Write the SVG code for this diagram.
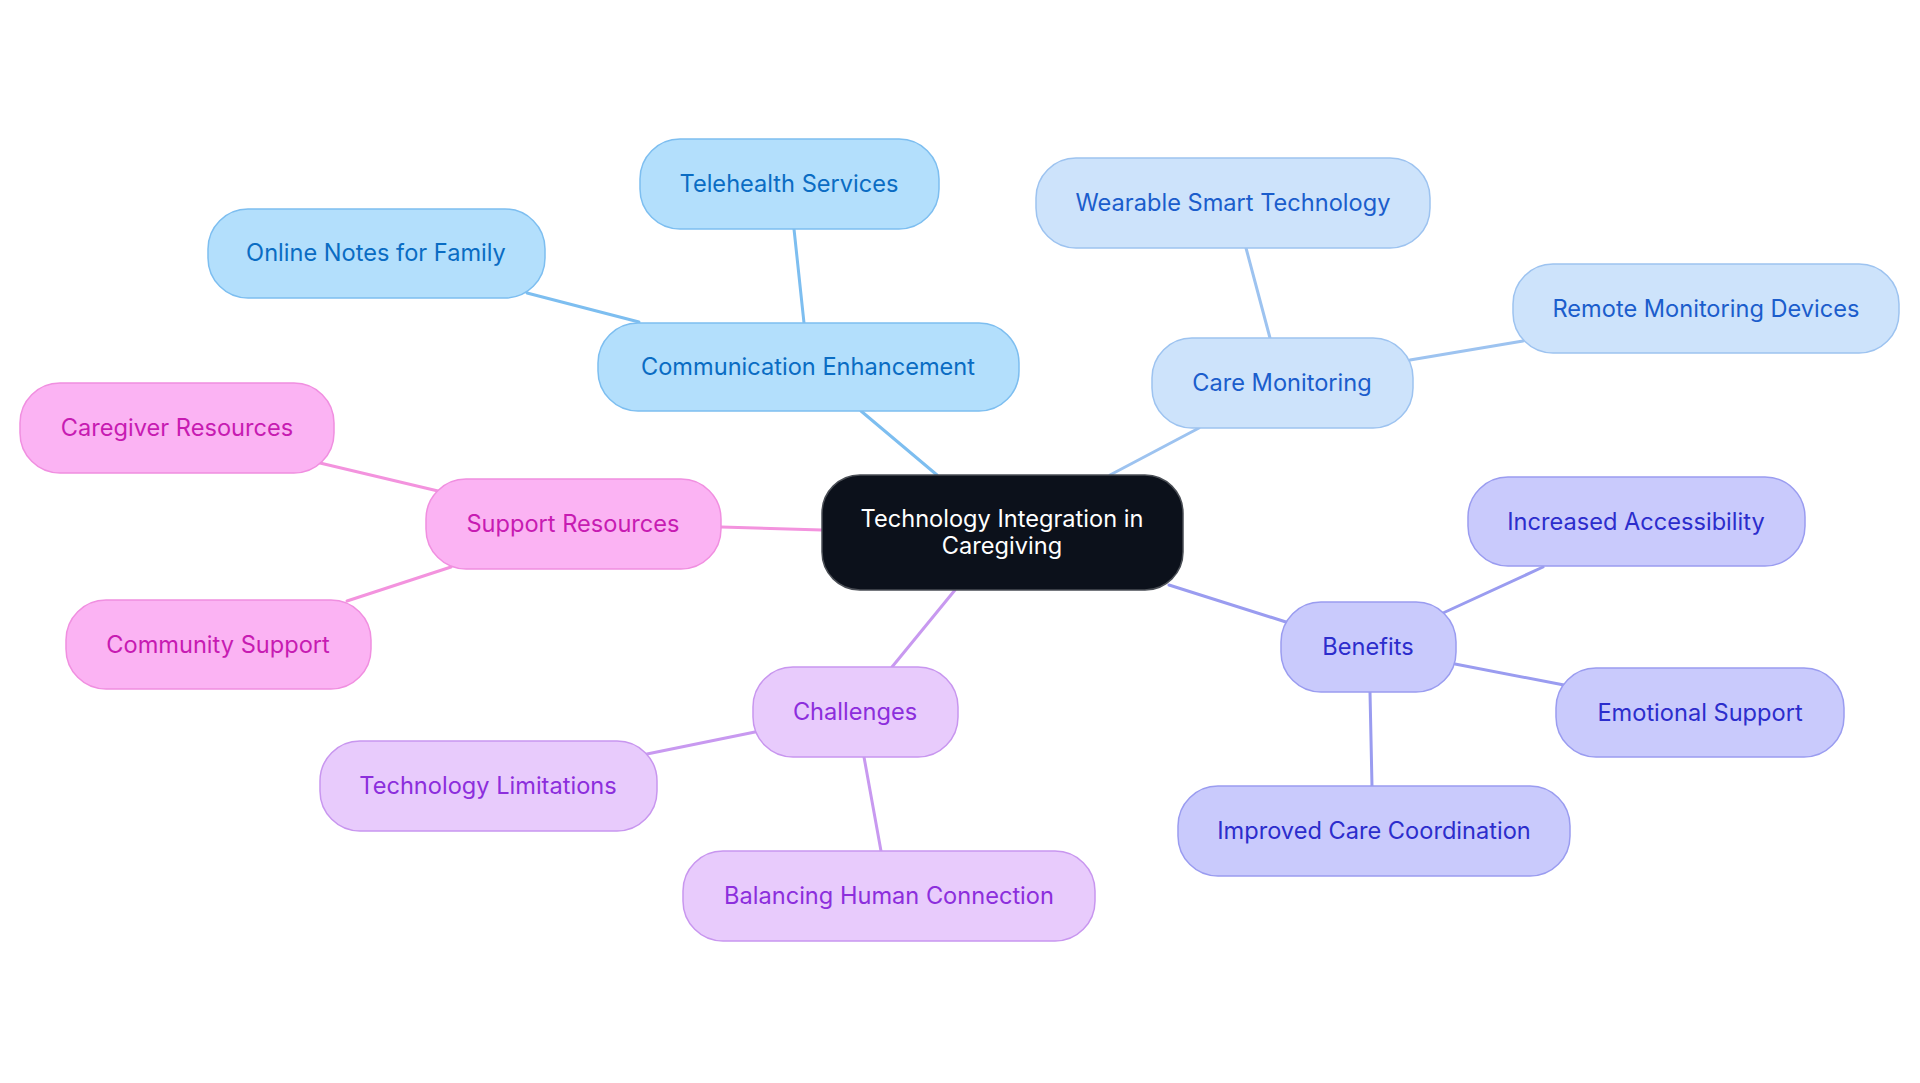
<svg xmlns="http://www.w3.org/2000/svg" width="1920" height="1083" viewBox="0 0 1920 1083">
<style>
text{font-family:Inter,"Noto Sans","Liberation Sans",sans-serif;font-size:23.6px;text-anchor:middle}
.ln{fill:none;stroke-width:3;stroke-linecap:round}
.n{stroke-width:1.5}
.b1 rect{fill:#b3dffc;stroke:#7dbef0}.b1 text{fill:#0a6cc3}
.b2 rect{fill:#cde3fb;stroke:#9dc3f0}.b2 text{fill:#1b5dcc}
.b3 rect{fill:#fbb3f3;stroke:#f08fe0}.b3 text{fill:#c71bb2}
.b4 rect{fill:#e8cbfc;stroke:#c896ef}.b4 text{fill:#8c2edc}
.b5 rect{fill:#c9cafc;stroke:#9a9cf0}.b5 text{fill:#2c2dcc}
</style>
<rect width="1920" height="1083" fill="#ffffff"/>
<g id="connectors">
<line class="ln" stroke="#7dbef0" x1="527" y1="293" x2="639" y2="322"/>
<line class="ln" stroke="#7dbef0" x1="794" y1="229" x2="804" y2="323"/>
<line class="ln" stroke="#7dbef0" x1="861" y1="411" x2="937" y2="475"/>
<line class="ln" stroke="#9dc3f0" x1="1246" y1="248" x2="1270" y2="338"/>
<line class="ln" stroke="#9dc3f0" x1="1410" y1="360" x2="1523" y2="341"/>
<line class="ln" stroke="#9dc3f0" x1="1199" y1="428" x2="1110" y2="475"/>
<line class="ln" stroke="#f393de" x1="320" y1="463" x2="438" y2="491"/>
<line class="ln" stroke="#f393de" x1="347" y1="601" x2="451" y2="567"/>
<line class="ln" stroke="#f393de" x1="721" y1="527" x2="822" y2="530"/>
<line class="ln" stroke="#c899f0" x1="755" y1="732" x2="647" y2="754"/>
<line class="ln" stroke="#c899f0" x1="864" y1="757" x2="881" y2="851"/>
<line class="ln" stroke="#c899f0" x1="955" y1="590" x2="892" y2="667"/>
<line class="ln" stroke="#9a9cf0" x1="1169" y1="585" x2="1286" y2="622"/>
<line class="ln" stroke="#9a9cf0" x1="1443" y1="613" x2="1543" y2="567"/>
<line class="ln" stroke="#9a9cf0" x1="1455" y1="664" x2="1564" y2="685"/>
<line class="ln" stroke="#9a9cf0" x1="1370" y1="692" x2="1372" y2="786"/>
</g>
<g id="center">
<rect x="822" y="475" width="361" height="115" rx="38" fill="#0c111b" stroke="#4a4e55" stroke-width="1.5"/>
<text x="1002" y="527" fill="#ffffff">Technology Integration in</text>
<text x="1002" y="554" fill="#ffffff">Caregiving</text>
</g>
<g id="communication" class="b1"><rect class="n" x="598" y="323" width="421" height="88" rx="40"/><text x="808" y="375">Communication Enhancement</text></g>
<g id="telehealth" class="b1"><rect class="n" x="640" y="139" width="299" height="90" rx="40"/><text x="789" y="192">Telehealth Services</text></g>
<g id="online-notes" class="b1"><rect class="n" x="208" y="209" width="337" height="89" rx="40"/><text x="376" y="261">Online Notes for Family</text></g>
<g id="care-monitoring" class="b2"><rect class="n" x="1152" y="338" width="261" height="90" rx="40"/><text x="1282" y="391">Care Monitoring</text></g>
<g id="wearable" class="b2"><rect class="n" x="1036" y="158" width="394" height="90" rx="40"/><text x="1233" y="211">Wearable Smart Technology</text></g>
<g id="remote" class="b2"><rect class="n" x="1513" y="264" width="386" height="89" rx="40"/><text x="1706" y="317">Remote Monitoring Devices</text></g>
<g id="support" class="b3"><rect class="n" x="426" y="479" width="295" height="90" rx="40"/><text x="573" y="532">Support Resources</text></g>
<g id="caregiver" class="b3"><rect class="n" x="20" y="383" width="314" height="90" rx="40"/><text x="177" y="436">Caregiver Resources</text></g>
<g id="community" class="b3"><rect class="n" x="66" y="600" width="305" height="89" rx="40"/><text x="218" y="653">Community Support</text></g>
<g id="challenges" class="b4"><rect class="n" x="753" y="667" width="205" height="90" rx="40"/><text x="855" y="720">Challenges</text></g>
<g id="tech-limitations" class="b4"><rect class="n" x="320" y="741" width="337" height="90" rx="40"/><text x="488" y="794">Technology Limitations</text></g>
<g id="balancing" class="b4"><rect class="n" x="683" y="851" width="412" height="90" rx="40"/><text x="889" y="904">Balancing Human Connection</text></g>
<g id="benefits" class="b5"><rect class="n" x="1281" y="602" width="175" height="90" rx="40"/><text x="1368" y="655">Benefits</text></g>
<g id="accessibility" class="b5"><rect class="n" x="1468" y="477" width="337" height="89" rx="40"/><text x="1636" y="530">Increased Accessibility</text></g>
<g id="emotional" class="b5"><rect class="n" x="1556" y="668" width="288" height="89" rx="40"/><text x="1700" y="721">Emotional Support</text></g>
<g id="coordination" class="b5"><rect class="n" x="1178" y="786" width="392" height="90" rx="40"/><text x="1374" y="839">Improved Care Coordination</text></g>
</svg>
